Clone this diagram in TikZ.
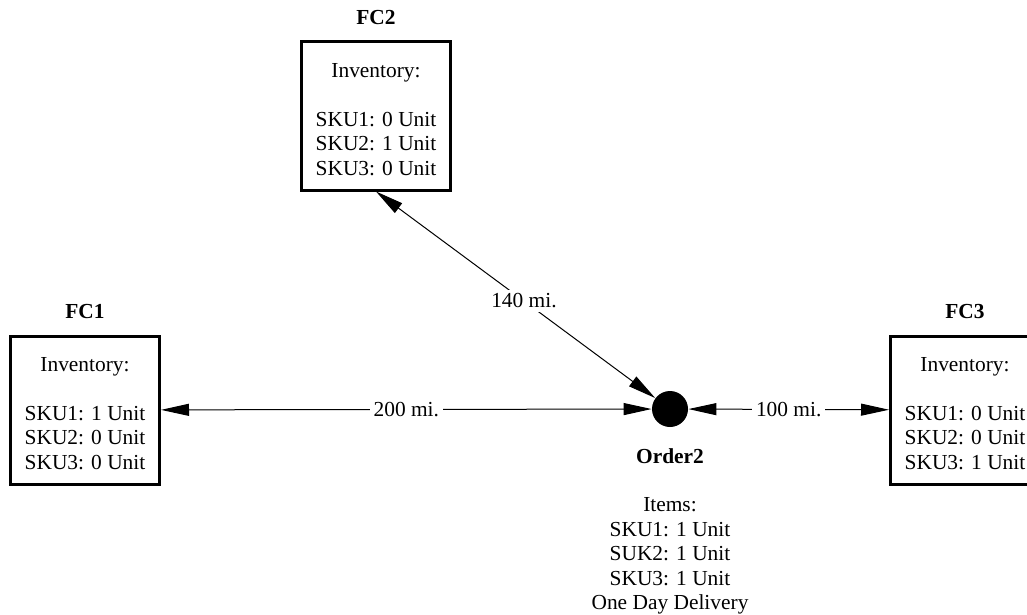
\documentclass[tikz,border=0pt]{standalone}
\usepackage{fontspec}
\setmainfont{Liberation Serif}
\usetikzlibrary{arrows.meta,positioning}

\tikzset{
    fcbox/.style={draw, line width=1.5pt, minimum width=74.5pt, minimum height=74pt,
        align=center, inner sep=0pt},
    fcname/.style={font=\fontsize{10.7}{12.2}\selectfont\bfseries},
    orderdot/.style={circle, fill=black, minimum size=18pt, inner sep=0pt},
    dist/.style={line width=0.5pt, >={Triangle[length=14pt,width=6pt]}, <->},
    distlabel/.style={fill=white, inner sep=2pt}
}
\newcommand{\topstrut}{\rule{0pt}{10.2pt}}

\begin{document}
\begin{tikzpicture}[x=0.5pt, y=-0.5pt, font=\fontsize{10.7}{12.25}\selectfont]
    \clip (0,0) rectangle (1027,615);

    % Fulfilment centres
    \node[fcbox] (fc2) at (376,116) {\topstrut Inventory:\\[12.25pt]SKU1: 0 Unit\\SKU2: 1 Unit\\SKU3: 0 Unit};
    \node[fcbox] (fc1) at (85,410) {\topstrut Inventory:\\[12.25pt]SKU1: 1 Unit\\SKU2: 0 Unit\\SKU3: 0 Unit};
    \node[fcbox] (fc3) at (965,410) {\topstrut Inventory:\\[12.25pt]SKU1: 0 Unit\\SKU2: 0 Unit\\SKU3: 1 Unit};
    \node[fcname, above=4.5pt of fc2] (fc2name) {FC2};
    \node[fcname, above=4.5pt of fc1] (fc1name) {FC1};
    \node[fcname, above=4.5pt of fc3] (fc3name) {FC3};

    % Order
    \node[orderdot] (order) at (670,409) {};
    \node[fcname, below=7pt of order] (ordername) {Order2};
    \node[align=center] (items) at (670,556) {Items:\\SKU1: 1 Unit\\SUK2: 1 Unit\\SKU3: 1 Unit\\One Day Delivery};

    % Distances
    \draw[dist] (fc1) -- node[distlabel] {200 mi.} (order);
    \draw[dist] (fc2.south) -- node[distlabel, pos=0.53] {140 mi.} (order);
    \draw[dist] (order) -- node[distlabel] {100 mi.} (fc3);
\end{tikzpicture}
\end{document}
